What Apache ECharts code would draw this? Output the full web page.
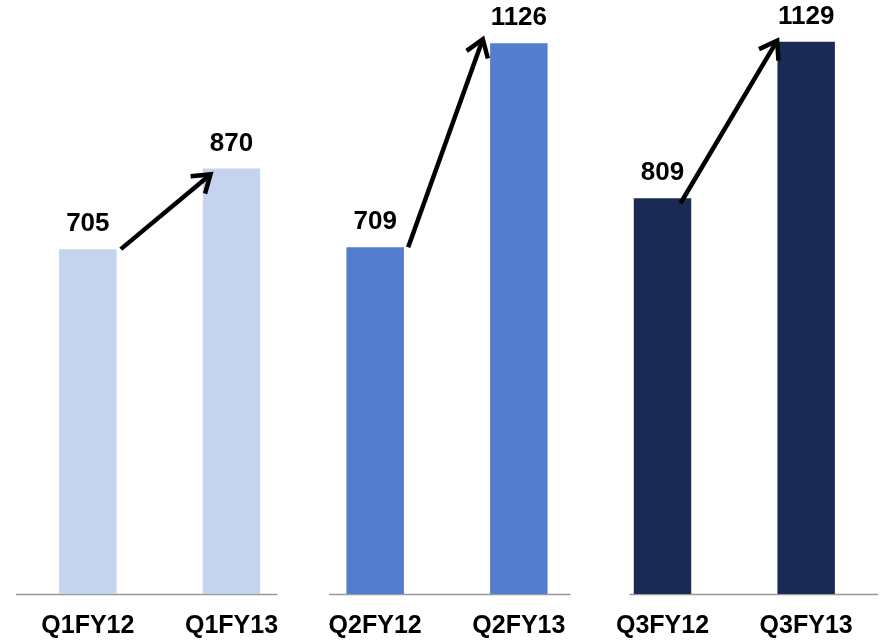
<!DOCTYPE html>
<html><head><meta charset="utf-8">
<script src="https://cdn.jsdelivr.net/npm/echarts@6/dist/echarts.min.js"></script>
<style>html,body{margin:0;padding:0;background:#fff}#c{width:881px;height:641px}</style>
</head><body><div id="c"></div>
<script>
var categories = ['Q1FY12','Q1FY13','Q2FY12','Q2FY13','Q3FY12','Q3FY13'];
var values = [705, 870, 709, 1126, 809, 1129];
var groupColors = ['#C5D3EE', '#557DCF', '#1A2B53'];
var groups = [[0,1],[2,3],[4,5]];

var chart = echarts.init(document.getElementById('c'));
// per-group geometry tweaks (pixels / band fractions)
var baseExt = [[-0.5,0.32],[-0.32,0.36],[-0.23,0.5]];
var arrowStart = [[33,0],[33,0],[18,5]];
var arrowEnd = [[-21,6],[-36,-4],[-29,-1]];

chart.setOption({
  animation: false,
  grid: {left: 16, right: 3, top: 7, bottom: 47},
  xAxis: {
    type: 'category', data: categories,
    axisLine: {show: false}, axisTick: {show: false},
    axisLabel: {color: '#000', fontWeight: 'bold', fontSize: 25, fontFamily: 'Liberation Sans, Arial', margin: 20}
  },
  yAxis: {type: 'value', min: 0, max: 1200, show: false, splitLine: {show: false}},
  series: [
    {
      type: 'bar', barWidth: '40%',
      data: values.map(function(v, i){ return {value: v, itemStyle: {color: groupColors[Math.floor(i/2)]}}; }),
      label: {show: true, position: 'top', distance: 12, color: '#000', fontWeight: 'bold', fontSize: 26, fontFamily: 'Liberation Sans, Arial'},
      z: 2
    },
    {
      type: 'custom', z: 1, silent: true,
      data: groups.map(function(g){ return [g[0], 0, g[1]]; }),
      renderItem: function(params, api){
        var i = params.dataIndex;
        var bw = api.size([1,0])[0];
        var a = api.coord([api.value(0), 0]);
        var b = api.coord([api.value(2), 0]);
        return {type: 'line', shape: {x1: a[0] + baseExt[i][0]*bw, y1: a[1]+0.5, x2: b[0] + baseExt[i][1]*bw, y2: a[1]+0.5},
                style: {stroke: '#999', lineWidth: 1.5}};
      }
    },
    {
      type: 'custom', z: 3, silent: true,
      data: groups.map(function(g){ return [g[0], values[g[0]], g[1], values[g[1]]]; }),
      renderItem: function(params, api){
        var i = params.dataIndex;
        var a = api.coord([api.value(0), api.value(1)]);
        var b = api.coord([api.value(2), api.value(3)]);
        var x1 = a[0] + arrowStart[i][0], y1 = a[1] + arrowStart[i][1];
        var x2 = b[0] + arrowEnd[i][0], y2 = b[1] + arrowEnd[i][1];
        var ang = Math.atan2(y2 - y1, x2 - x1);
        var L = 20, spread = 0.6;
        var hx1 = x2 - L*Math.cos(ang - spread), hy1 = y2 - L*Math.sin(ang - spread);
        var hx2 = x2 - L*Math.cos(ang + spread), hy2 = y2 - L*Math.sin(ang + spread);
        return {type: 'group', children: [
          {type: 'line', shape: {x1: x1, y1: y1, x2: x2 - 2*Math.cos(ang), y2: y2 - 2*Math.sin(ang)}, style: {stroke: '#000', lineWidth: 4.5, lineCap: 'butt'}},
          {type: 'polyline', shape: {points: [[hx1,hy1],[x2,y2],[hx2,hy2]]}, style: {stroke: '#000', fill: null, lineWidth: 4.5, lineJoin: 'miter', lineCap: 'butt'}}
        ]};
      }
    }
  ]
});
</script></body></html>
